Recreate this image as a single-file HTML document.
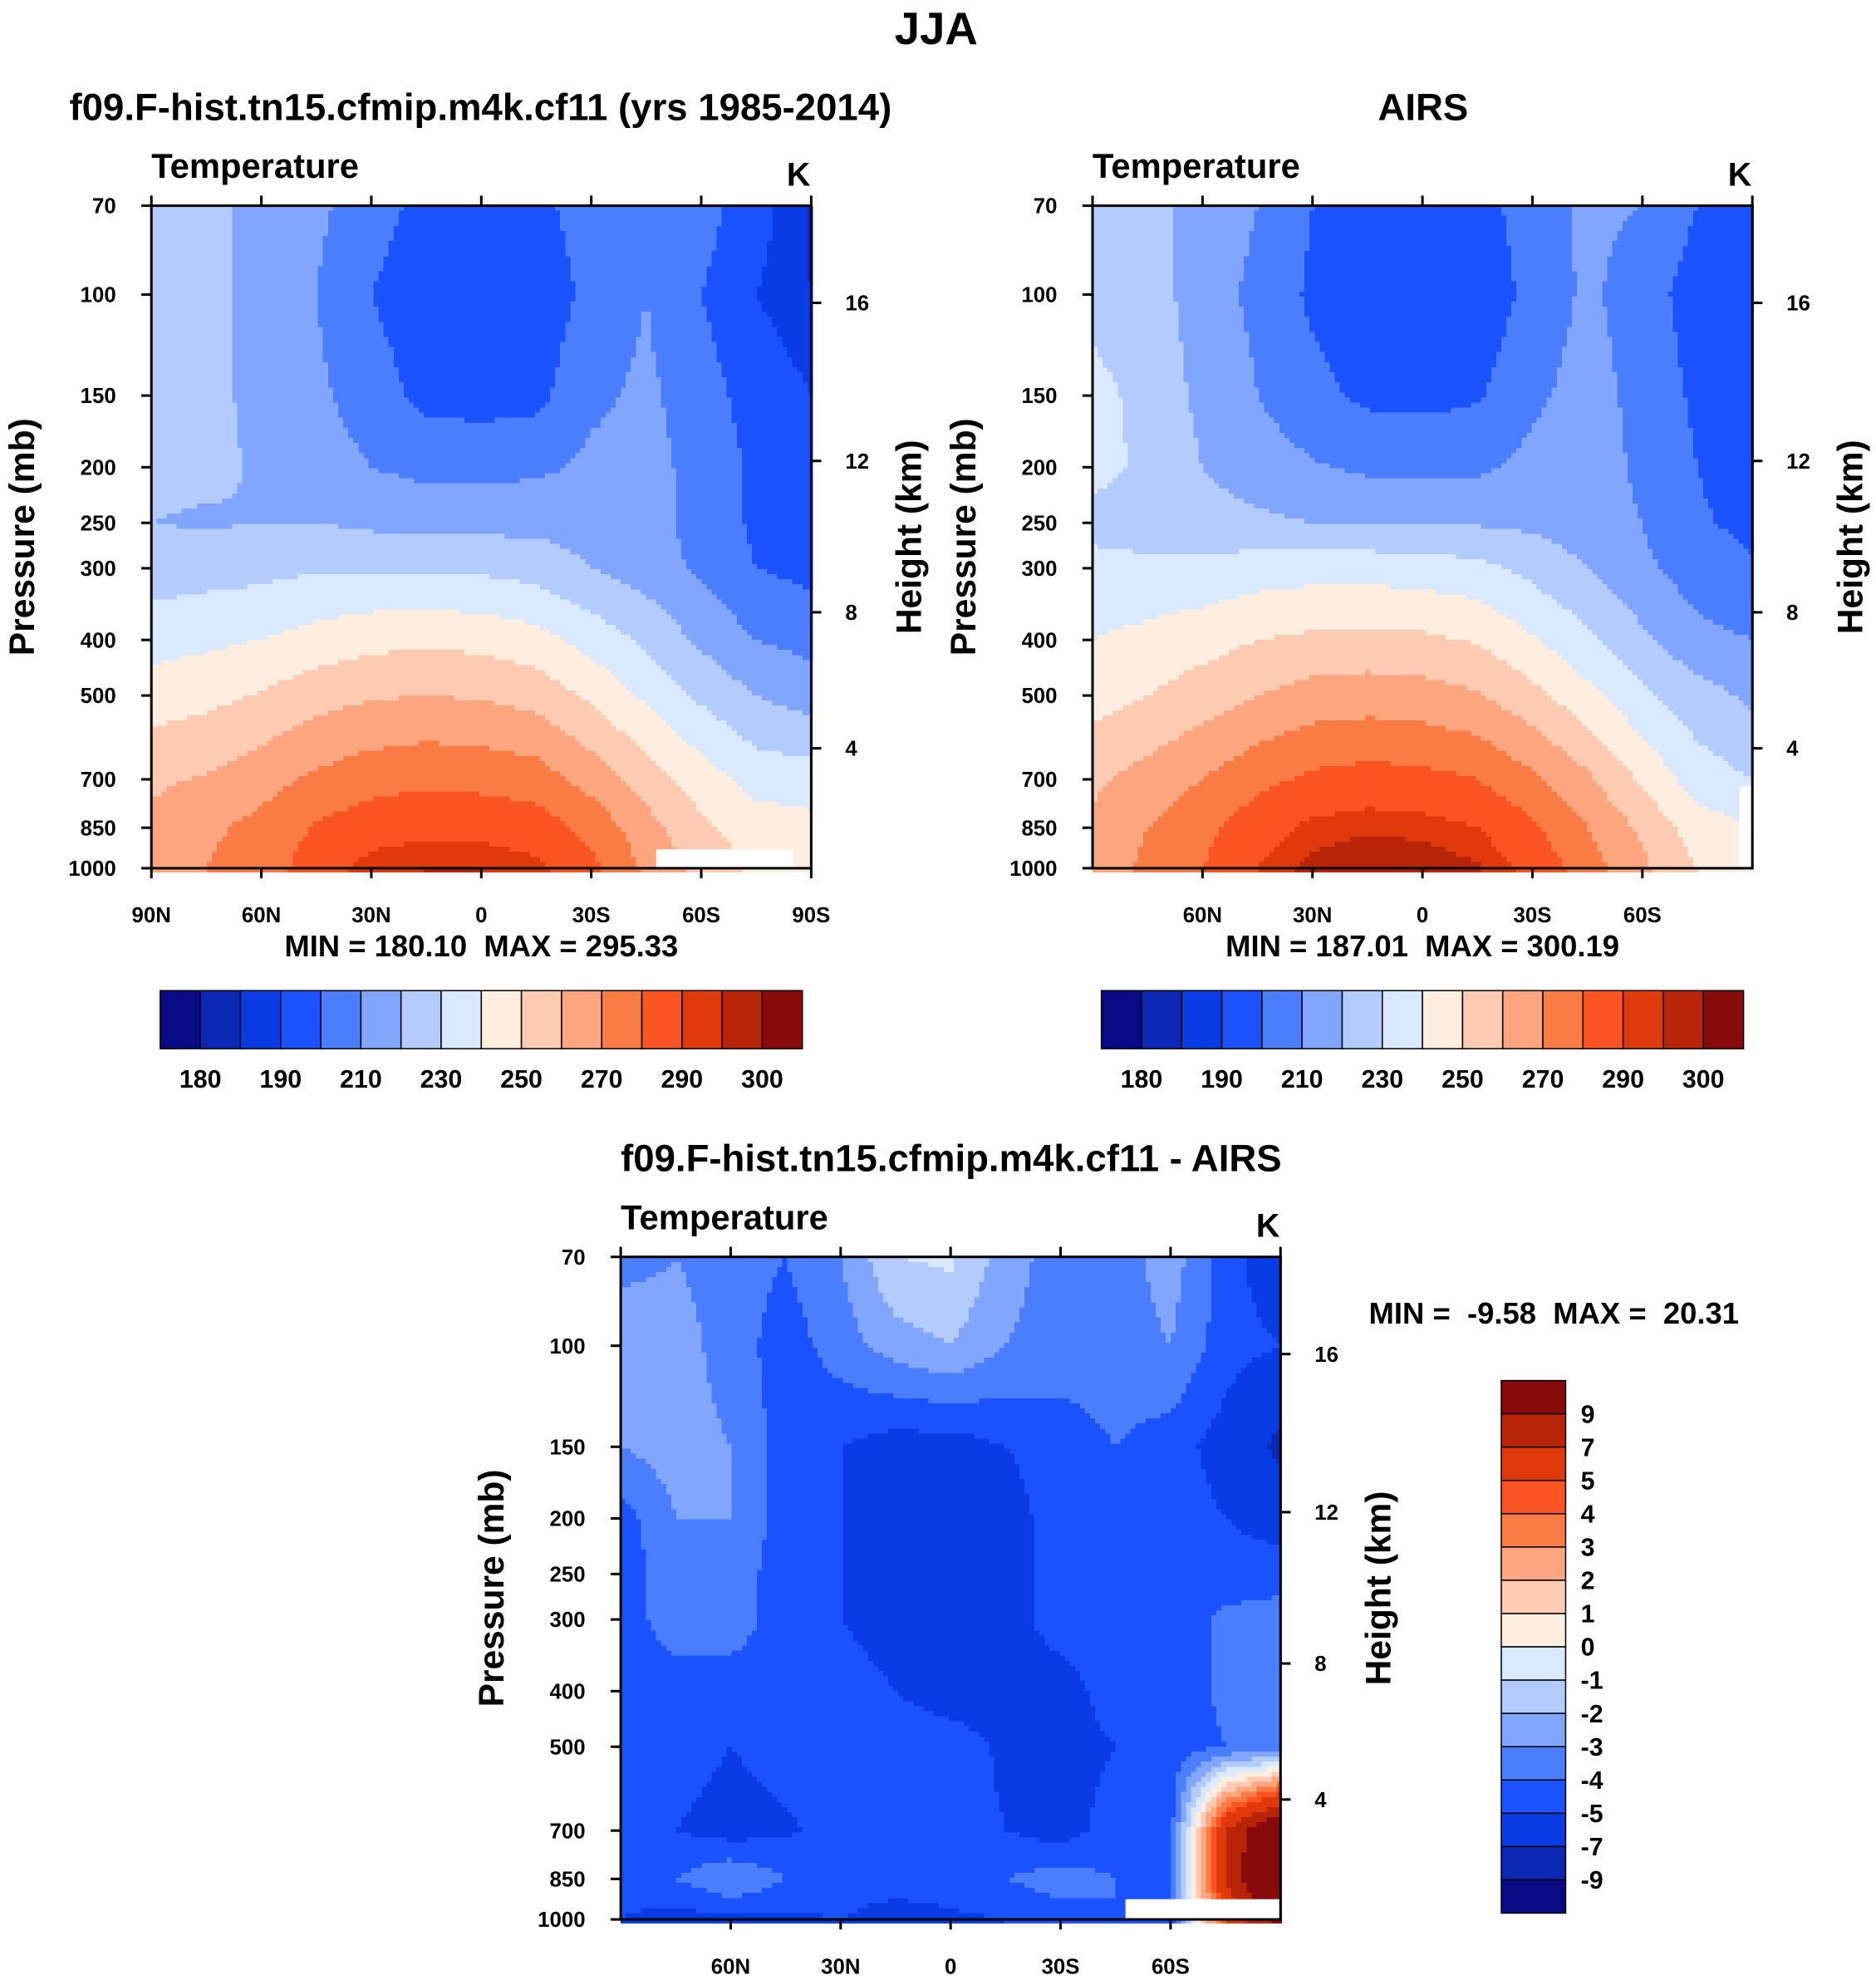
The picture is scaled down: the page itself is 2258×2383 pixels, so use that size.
<!DOCTYPE html>
<html><head><meta charset="utf-8">
<style>
html,body{margin:0;padding:0;background:#fff;}
svg{display:block;}
text{font-family:"Liberation Sans",sans-serif;font-weight:bold;fill:#000;white-space:pre;}
</style></head>
<body>
<svg id="fig" xmlns="http://www.w3.org/2000/svg" width="2258" height="2383" viewBox="0 0 1487 1569" preserveAspectRatio="none" xml:space="preserve">
<text x="742" y="35" font-size="36" text-anchor="middle">JJA</text>
</svg>
<script>
// ---------- DATA ----------
const lats = [90,75,60,45,30,15,0,-15,-30,-45,-60,-75,-90];
const pressures = [70,100,150,200,250,300,400,500,700,850,1000];
const pressureTicks = [70,100,150,200,250,300,400,500,700,850,1000];
const heightTicks = [16,12,8,4];
const heightTickP = [103.4,195,358,618]; // pressure of height labels
const latTicksTop = [90,60,30,0,-30,-60,-90];
const latLabels1 = ["90N","60N","30N","0","30S","60S","90S"];
const latLabelVals1 = [90,60,30,0,-30,-60,-90];
const latLabels2 = ["60N","30N","0","30S","60S"];
const latLabelVals2 = [60,30,0,-30,-60];
const modelT = [
[222,222,218,212,205,196,195,197,205,210,205,193,184],
[222,222,218,210,200,193,192,193,203,210,200,190,185],
[222,222,218,212,205,197,196,197,208,212,205,195,190],
[222,222,219,215,210,207,207,208,212,213,207,198,192],
[220,219,220,220,218,217,217,217,216,213,207,198,193],
[225,226,227,229,229,229,228,226,220,215,208,200,197],
[236,238,240,244,247,248,247,244,236,228,218,210,207],
[245,247,251,256,259,260,259,256,248,238,228,220,215],
[258,261,266,272,276,278,277,275,266,255,245,236,235],
[263,268,273,281,286,288,287,285,277,264,252,245,243],
[265,270,275,285,293,295,295,292,283,268,257,248,245]];
const airsT = [
[225,225,215,210,200,196,195,196,205,212,210,200,190],
[228,226,214,208,198,192,191,193,203,212,205,195,190],
[232,228,217,210,203,198,197,199,208,214,207,198,194],
[232,229,220,215,211,208,208,208,213,215,208,200,196],
[228,226,224,222,220,220,220,219,218,215,210,201,198],
[232,232,233,235,236,236,235,233,227,220,212,205,201],
[240,243,246,250,252,253,252,249,241,232,222,213,210],
[246,250,255,260,264,265,264,261,253,243,232,224,218],
[258,264,270,277,282,284,283,280,272,262,248,235,230],
[262,270,277,286,292,294,293,290,282,270,258,245,240],
[264,272,280,290,297,300,299,296,287,275,262,250,245]];
const diffT = [
[-3.5,-3,-3.5,-4,-3,-1,-0.8,-2.5,-3.5,-3.5,-2.5,-4.5,-6],
[-2,-2.5,-3.5,-4.5,-3.5,-2.5,-2,-3,-3.5,-3.5,-3,-4.5,-5],
[-3,-2.5,-3,-4.5,-5,-5.5,-5.5,-5,-4.5,-4,-4.5,-5.5,-7.5],
[-4.5,-3,-3,-4.5,-5,-5.5,-5.5,-5.5,-4.5,-4,-4.5,-5,-5.5],
[-4.5,-3.5,-3.5,-4.5,-5,-5.5,-5.5,-5.5,-4.5,-4.5,-4.5,-4.5,-4.5],
[-4.5,-3.5,-3.5,-4.5,-5,-5.5,-5.5,-5.5,-4.5,-4.5,-4.5,-3.8,-3.5],
[-4.5,-4.5,-4.5,-4.5,-4.5,-5,-5.5,-5.5,-5.5,-4.5,-4.5,-3.8,-3.5],
[-4.5,-4.5,-5,-4.5,-4.5,-4.5,-4.5,-5.2,-5.5,-5,-4.5,-4,-4],
[-4.5,-5,-5.5,-5.2,-4.5,-4.5,-4.5,-5,-5.5,-4.5,-4.5,7,12],
[-4.5,-4,-3,-4,-4.5,-4.5,-4.5,-4,-3.5,-4,-4,7,14],
[-5,-5.5,-5.2,-5.2,-5,-5.5,-5.2,-5,-4.5,-4,-4.5,5,10]];
const tLevels = [180,185,190,200,210,220,230,240,250,260,270,280,290,295,300];
const tLabels = ["180","190","210","230","250","270","290","300"];
const dLevels = [-9,-7,-5,-4,-3,-2,-1,0,1,2,3,4,5,7,9];
const dLabels = ["9","7","5","4","3","2","1","0","-1","-2","-3","-4","-5","-7","-9"];
const palette = ["#0a0a86","#0a28b4","#0a3ce6","#1b52ff","#4a7dff","#80a6ff","#b3cbff","#d9e9ff","#ffeedf","#fecab1","#fca57e","#fb7b45","#f95421","#e0390b","#b72408","#890a0a"];

// ---------- DRAW ----------
const svg = document.getElementById('fig');
const NS = "http://www.w3.org/2000/svg";
function mk(tag, attrs, parent){const e=document.createElementNS(NS,tag);for(const k in attrs)e.setAttribute(k,attrs[k]);(parent||svg).appendChild(e);return e;}
function txt(s,x,y,size,anchor,parent,rot){const t=mk('text',{x:x,y:y,'font-size':size,'text-anchor':anchor||'start'},parent);if(rot)t.setAttribute('transform',`rotate(${rot} ${x} ${y})`);t.textContent=s;return t;}
function colorFor(v,levels){let i=0;while(i<levels.length&&v>=levels[i])i++;return palette[i];}

function panel(name, X0, Y0, grid, levels, title, titleX, titleAnchor, latLabels, latVals, minmax, masks){
  const W=523,H=525;
  const xs = lat => X0 + (90-lat)/180*W;
  const ys = p => Y0 + H*Math.log(p/70)/Math.log(1000/70);
  const g = mk('g',{});
  
  
  const cells = mk('g',{'shape-rendering':'crispEdges'},g);
  
  
  const step=4;
  const lnP = pressures.map(p=>Math.log(p));
  for(let y=0;y<H;y+=step){
    const p = 70*Math.exp((y+step/2)/H*Math.log(1000/70));
    const lp=Math.log(p);
    let r=0;while(r<pressures.length-2&&lp>lnP[r+1])r++;
    const fr=Math.min(1,Math.max(0,(lp-lnP[r])/(lnP[r+1]-lnP[r])));
    for(let x=0;x<W;x+=step){
      const lat = 90-(x+step/2)/W*180;
      const cf=(90-lat)/15;let c=Math.min(lats.length-2,Math.floor(cf));const fc=cf-c;
      const a=grid[r][c],b=grid[r][c+1],d=grid[r+1][c],e=grid[r+1][c+1];
      const v=(a*(1-fc)+b*fc)*(1-fr)+(d*(1-fc)+e*fc)*fr;
      const rc=mk('rect',{x:X0+x,y:Y0+y,width:step+0.3,height:step+0.3,fill:colorFor(v,levels)},cells);
      
      
    }
  }
  (masks||[]).forEach(m=>{
    const mr=mk('rect',{x:xs(m[0]),y:ys(m[2]),width:xs(m[1])-xs(m[0]),height:Y0+H-ys(m[2]),fill:'#fff'},g);
    
    
  });
  const fr=mk('rect',{x:X0,y:Y0,width:W,height:H,fill:'none',stroke:'#000','stroke-width':2},g);
  
  
  pressureTicks.forEach(p=>{mk('line',{x1:X0-8,x2:X0,y1:ys(p),y2:ys(p),stroke:'#000','stroke-width':2},g);
    const t=txt(String(p),X0-28,ys(p)+6,17,'end',g);});
  heightTicks.forEach((h,i)=>{const y=ys(heightTickP[i]);mk('line',{x1:X0+W,x2:X0+W+8,y1:y,y2:y,stroke:'#000','stroke-width':2},g);
    const t=txt(String(h),X0+W+27,y+6,17,'start',g);});
  latTicksTop.forEach(l=>{mk('line',{x1:xs(l),x2:xs(l),y1:Y0-8,y2:Y0,stroke:'#000','stroke-width':2},g);});
  latVals.forEach((l,i)=>{mk('line',{x1:xs(l),x2:xs(l),y1:Y0+H,y2:Y0+H+8,stroke:'#000','stroke-width':2},g);
    const t=txt(latLabels[i],xs(l),Y0+H+43,17,'middle',g);});
  let t=txt('Temperature',X0,Y0-22,27.5,'start',g);
  t=txt('K',X0+W-10,Y0-16,26,'middle',g);
  t=txt('Pressure (mb)',X0-93,Y0+H/2,28,'middle',g,-90);
  t=txt('Height (km)',X0+W+87,Y0+H/2,28,'middle',g,-90);
  t=txt(title,titleX,Y0-68,30,titleAnchor,g);
  if(minmax){t=txt(minmax,X0+W/2,Y0+H+70,24,'middle',g);}
}
panel('model-panel',120,163,modelT,tLevels,'f09.F-hist.tn15.cfmip.m4k.cf11 (yrs 1985-2014)',55,'start',latLabels1,latLabelVals1,'MIN = 180.10  MAX = 295.33',[[-47.7,-85,927]]);
panel('airs-panel',866,163,airsT,tLevels,'AIRS',1128,'middle',latLabels2,latLabelVals2,'MIN = 187.01  MAX = 300.19',[[-86.5,-90,720]]);
panel('diff-panel',492,996,diffT,dLevels,'f09.F-hist.tn15.cfmip.m4k.cf11 - AIRS',492,'start',latLabels2,latLabelVals2,null,[[-47.7,-90,922]]);
let mm=txt('MIN =  -9.58  MAX =  20.31',1085,1049,24,'start');


function hbar(name,X0){
  const g=mk('g',{});
  const bw=509/16;
  palette.forEach((c,i)=>{const r=mk('rect',{x:X0+i*bw,y:785,width:bw,height:46,fill:c,stroke:'#000','stroke-width':1},g);
    });
  tLabels.forEach((s,i)=>{const t=txt(s,X0+bw*(1+2*i),862,20,'middle',g);});
}
hbar('model-colorbar',127);hbar('airs-colorbar',873);
(function(){
  const g=mk('g',{});
  const bh=422/16;
  palette.slice().reverse().forEach((c,i)=>{const r=mk('rect',{x:1190,y:1094+i*bh,width:51,height:bh,fill:c,stroke:'#000','stroke-width':1},g);
    });
  dLabels.forEach((s,i)=>{const t=txt(s,1253,1094+bh*(i+1)+7,20,'start',g);});
})();
</script>
</body></html>
